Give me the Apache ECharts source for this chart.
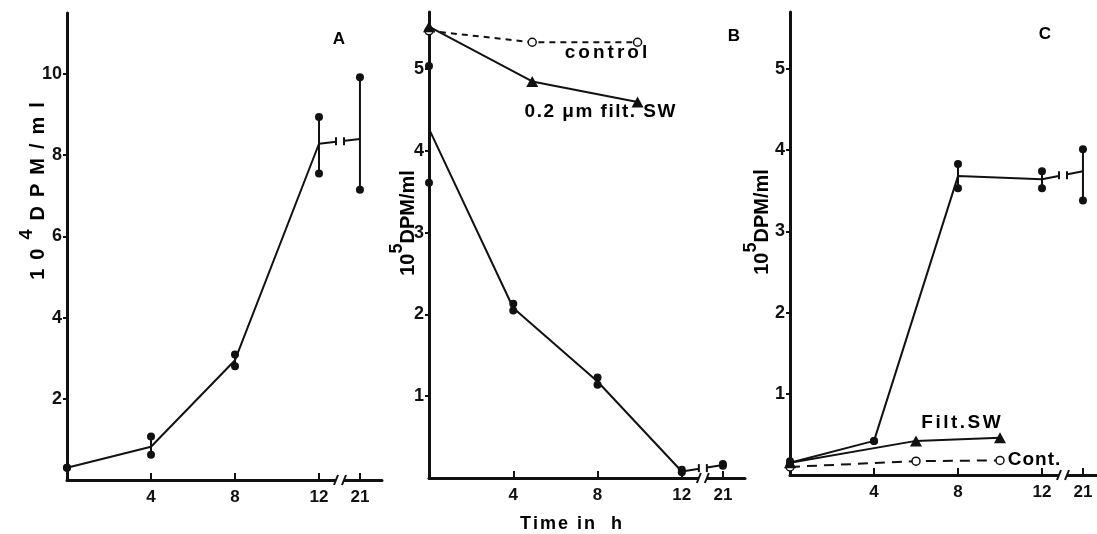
<!DOCTYPE html>
<html>
<head>
<meta charset="utf-8">
<script src="https://cdn.jsdelivr.net/npm/echarts@6/dist/echarts.min.js"></script>
<style>
  html, body { margin: 0; padding: 0; background: #fff; }
  #chart { width: 1097px; height: 534px; }
</style>
</head>
<body>
<div id="chart"></div>
<script>
// x position used for the 21 h sample (axis is broken after 12 h)
var tick21 = 13.95;
var breakAt = 13.0;
var xTicks = [4, 8, 12, 21];

// panel A : two replicates + mean
var aTimes = [0, 4, 8, 12, 21];
var aHigh = [0.30, 1.07, 3.09, 8.94, 9.92];
var aLow = [0.30, 0.62, 2.80, 7.55, 7.15];
var aMean = [0.30, 0.82, 2.95, 8.28, 8.40];
var aYTicks = [2, 4, 6, 8, 10];

// panel B
var bTimes = [0, 4, 8, 12, 21];
var bHigh = [5.04, 2.13, 1.23, 0.10, 0.17];
var bLow = [3.61, 2.05, 1.14, 0.07, 0.15];
var bMean = [4.27, 2.08, 1.18, 0.08, 0.16];
var bFiltTimes = [0, 4.9, 9.9];
var bFilt = [5.52, 4.85, 4.60];
var bCtrlTimes = [0, 4.9, 9.9];
var bCtrl = [5.47, 5.33, 5.33];
var bYTicks = [1, 2, 3, 4, 5];

// panel C
var cTimes = [0, 4, 8, 12, 21];
var cHigh = [0.17, 0.42, 3.83, 3.74, 4.01];
var cLow = [0.15, 0.42, 3.53, 3.53, 3.38];
var cMean = [0.15, 0.42, 3.68, 3.64, 3.74];
var cFiltTimes = [0, 6, 10];
var cFilt = [0.15, 0.42, 0.46];
var cCtrlTimes = [0, 6, 10];
var cCtrl = [0.10, 0.17, 0.18];
var cYTicks = [1, 2, 3, 4, 5];

var ink = "#111";
var font = "Liberation Sans";

function px(t) { return t === 21 ? tick21 : t; }
function pairs(times, vals) { return times.map(function (t, i) { return [px(t), vals[i]]; }); }
function reps(times, hi, lo) {
  var out = [];
  times.forEach(function (t, i) { out.push([px(t), hi[i]]); out.push([px(t), lo[i]]); });
  return out;
}
function ranges(times, hi, lo) { return times.map(function (t, i) { return [px(t), lo[i], hi[i]]; }); }

function errRender(params, api) {
  var a = api.coord([api.value(0), api.value(1)]);
  var b = api.coord([api.value(0), api.value(2)]);
  return { type: "line", shape: { x1: a[0], y1: a[1], x2: b[0], y2: b[1] }, style: { stroke: ink, lineWidth: 2 } };
}

// gap with end caps in the 12 -> 21 segment
function lineBreakRender(params, api) {
  var p1 = api.coord([api.value(0), api.value(1)]);
  var p2 = api.coord([api.value(2), api.value(3)]);
  var xb = api.coord([breakAt, 0])[0];
  var f = (xb - p1[0]) / (p2[0] - p1[0]);
  var yb = p1[1] + f * (p2[1] - p1[1]);
  return {
    type: "group",
    children: [
      { type: "rect", shape: { x: xb - 4, y: yb - 5, width: 8, height: 10 }, style: { fill: "#fff" } },
      { type: "line", shape: { x1: xb - 4, y1: yb - 4, x2: xb - 4, y2: yb + 4 }, style: { stroke: ink, lineWidth: 2 } },
      { type: "line", shape: { x1: xb + 4, y1: yb - 4, x2: xb + 4, y2: yb + 4 }, style: { stroke: ink, lineWidth: 2 } }
    ]
  };
}

// "/ /" on the x axis
function axisBreakRender(params, api) {
  var p = api.coord([breakAt, 0]);
  return {
    type: "group",
    children: [
      { type: "rect", shape: { x: p[0] - 4, y: p[1] - 3, width: 8, height: 6 }, style: { fill: "#fff" } },
      { type: "line", shape: { x1: p[0] - 6, y1: p[1] + 5, x2: p[0] - 2, y2: p[1] - 5 }, style: { stroke: ink, lineWidth: 2 } },
      { type: "line", shape: { x1: p[0] + 2, y1: p[1] + 5, x2: p[0] + 6, y2: p[1] - 5 }, style: { stroke: ink, lineWidth: 2 } }
    ]
  };
}

function xAxisFor(idx, max) {
  return {
    type: "value", gridIndex: idx, min: 0, max: max,
    axisLine: { lineStyle: { color: ink, width: 3 } },
    axisTick: { inside: true, length: 7, customValues: xTicks.map(px), lineStyle: { color: ink, width: 2 } },
    axisLabel: {
      customValues: xTicks.map(px), margin: 9, color: ink, fontFamily: font, fontWeight: "bold", fontSize: 17,
      formatter: function (v) { return Math.abs(v - tick21) < 0.01 ? "21" : String(v); }
    },
    splitLine: { show: false }
  };
}
function yAxisFor(idx, max, ticks) {
  return {
    type: "value", gridIndex: idx, min: 0, max: max,
    axisLine: { show: true, lineStyle: { color: ink, width: 3 } },
    axisTick: { show: true, length: 4, customValues: ticks, lineStyle: { color: ink, width: 2 } },
    axisLabel: { customValues: ticks, margin: 5, color: ink, fontFamily: font, fontWeight: "bold", fontSize: 18 },
    splitLine: { show: false }
  };
}

function panelSeries(idx, times, hi, lo, mean) {
  return [
    { type: "line", xAxisIndex: idx, yAxisIndex: idx, data: pairs(times, mean), symbol: "none",
      lineStyle: { color: ink, width: 2 }, z: 3 },
    { type: "custom", xAxisIndex: idx, yAxisIndex: idx, data: ranges(times, hi, lo), renderItem: errRender,
      encode: { x: 0, y: [1, 2] }, clip: false, z: 3 },
    { type: "custom", xAxisIndex: idx, yAxisIndex: idx,
      data: [[px(12), mean[3], px(21), mean[4]]], renderItem: lineBreakRender,
      encode: { x: [0, 2], y: [1, 3] }, clip: false, z: 4 },
    { type: "scatter", xAxisIndex: idx, yAxisIndex: idx, data: reps(times, hi, lo), symbol: "circle",
      symbolSize: 8, itemStyle: { color: ink, opacity: 1 }, z: 5 },
    { type: "custom", xAxisIndex: idx, yAxisIndex: idx, data: [[breakAt, 0]], renderItem: axisBreakRender,
      encode: { x: 0, y: 1 }, clip: false, z: 6 }
  ];
}

function filtSeries(idx, times, vals) {
  return { type: "line", xAxisIndex: idx, yAxisIndex: idx, data: pairs(times, vals), symbol: "triangle",
    symbolSize: [12, 11], showSymbol: true, itemStyle: { color: ink, opacity: 1 }, lineStyle: { color: ink, width: 2 }, z: 4 };
}
function ctrlSeries(idx, times, vals, dash) {
  return { type: "line", xAxisIndex: idx, yAxisIndex: idx, data: pairs(times, vals), symbol: "circle",
    symbolSize: 8, itemStyle: { color: "#fff", borderColor: ink, borderWidth: 1.5, opacity: 1 },
    lineStyle: { color: ink, width: 2, type: dash }, z: 4 };
}

// letter-spaced bold text built from one rich token per character
function spaced(str, key) {
  return str.split("").map(function (c) { return "{" + key + "|" + c + "}"; }).join("");
}
function txt(x, y, s, size, gap) {
  return {
    type: "text", x: x, y: y,
    style: {
      text: spaced(s, "c"), align: "center", verticalAlign: "middle",
      rich: { c: { fontSize: size, fontFamily: font, fontWeight: "bold", color: ink, padding: [0, gap / 2] } }
    }
  };
}
function yName(x, y, exp, gap) {
  return {
    type: "text", x: x, y: y, rotation: Math.PI / 2,
    style: {
      text: spaced("10", "n") + spaced(exp, "s") + spaced("DPM/ml", "n"), align: "center", verticalAlign: "middle",
      rich: {
        n: { fontSize: 20, fontFamily: font, fontWeight: "bold", color: ink, lineHeight: 30, verticalAlign: "bottom", padding: [0, gap / 2] },
        s: { fontSize: 18, fontFamily: font, fontWeight: "bold", color: ink, lineHeight: 18, verticalAlign: "top", padding: [0, gap / 2] }
      }
    }
  };
}

var chart = echarts.init(document.getElementById("chart"), null, { renderer: "canvas" });
chart.setOption({
  backgroundColor: "#fff",
  animation: false,
  grid: [
    { left: 67, top: 13, width: 315, height: 467, containLabel: false, outerBoundsMode: "none" },
    { left: 429, top: 12, width: 316, height: 466, containLabel: false, outerBoundsMode: "none" },
    { left: 790, top: 12, width: 307, height: 463, containLabel: false, outerBoundsMode: "none" }
  ],
  xAxis: [xAxisFor(0, 15), xAxisFor(1, 15), xAxisFor(2, 307 / 21)],
  yAxis: [yAxisFor(0, 11.5, aYTicks), yAxisFor(1, 5.7, bYTicks), yAxisFor(2, 5.7, cYTicks)],
  series: []
    .concat(panelSeries(0, aTimes, aHigh, aLow, aMean))
    .concat(panelSeries(1, bTimes, bHigh, bLow, bMean))
    .concat([ctrlSeries(1, bCtrlTimes, bCtrl, [6, 5]), filtSeries(1, bFiltTimes, bFilt)])
    .concat(panelSeries(2, cTimes, cHigh, cLow, cMean))
    .concat([ctrlSeries(2, cCtrlTimes, cCtrl, [10, 7]), filtSeries(2, cFiltTimes, cFilt)]),
  graphic: [
    txt(339, 39, "A", 17, 0), txt(734, 36, "B", 17, 0), txt(1045, 34, "C", 17, 0),
    txt(606, 53, "control", 19, 3), txt(600, 112, "0.2 μm filt. SW", 19, 1.5),
    txt(961, 423, "Filt.SW", 19, 2.5), txt(1034, 460, "Cont.", 19, 1),
    txt(571, 524, "Time in  h", 18, 2),
    yName(33, 191, "4", 9), yName(403, 223, "5", 0), yName(757, 222, "5", 0)
  ]
});
window.addEventListener("resize", function () { chart.resize(); });
</script>
</body>
</html>
